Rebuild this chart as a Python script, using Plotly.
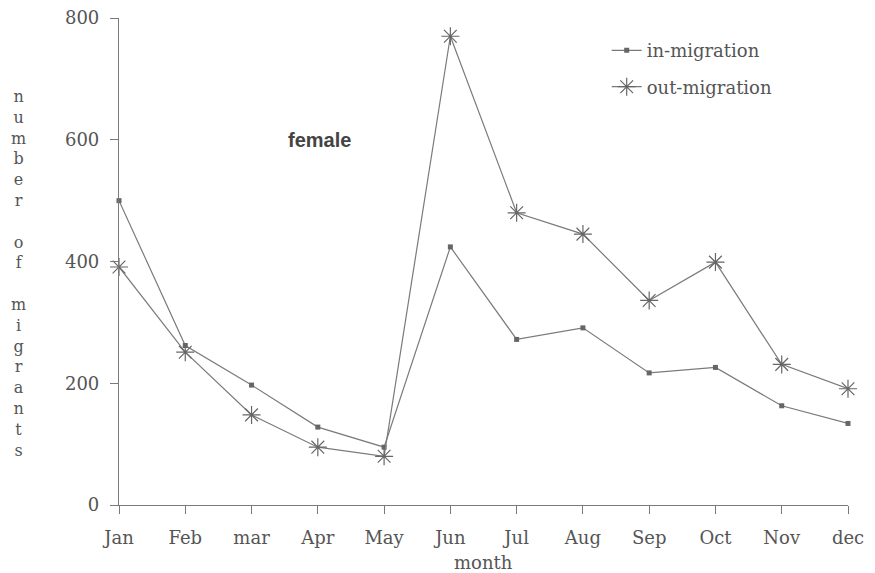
import plotly.graph_objects as go

months = ["Jan", "Feb", "mar", "Apr", "May", "Jun", "Jul", "Aug", "Sep", "Oct", "Nov", "dec"]
in_migration = [500, 262, 197, 128, 95, 424, 272, 291, 217, 226, 163, 134]
out_migration = [391, 251, 148, 95, 80, 770, 480, 445, 336, 399, 231, 191]
y_ticks = [0, 200, 400, 600, 800]
y_title = "number of migrants"
x_title = "month"

serif = "DejaVu Serif, Liberation Serif, serif"
line_col = "#7a7a7a"
text_col = "#555555"

fig = go.Figure()
fig.add_trace(go.Scatter(
    x=months, y=in_migration, mode="lines+markers", name="in-migration",
    line=dict(color=line_col, width=1.2),
    marker=dict(symbol="square", size=5, color="#666666"),
    cliponaxis=False, legendgroup="a",
))
fig.add_trace(go.Scatter(
    x=months, y=out_migration, mode="lines+markers", name="out-migration",
    line=dict(color=line_col, width=1.2),
    marker=dict(symbol="asterisk-open", size=15, color="#666666",
                line=dict(color="#666666", width=1.2)),
    cliponaxis=False, legendgroup="b",
))

# stacked vertical y-axis title
words = y_title.split(" ")
stacked = "<br><br>".join("<br>".join(list(w)) for w in words)
fig.add_annotation(
    text=stacked, xref="paper", yref="paper", x=-0.1385, y=0.476,
    xanchor="center", yanchor="middle", showarrow=False,
    font=dict(family=serif, size=16, color=text_col), align="center",
)
fig.add_annotation(
    text=x_title, xref="paper", yref="paper", x=0.5, y=-0.119,
    xanchor="center", yanchor="middle", showarrow=False,
    font=dict(family=serif, size=18, color=text_col),
)
fig.add_annotation(
    text="<b>female</b>", x=3.03, y=600, xref="x", yref="y",
    showarrow=False, font=dict(family="Liberation Sans, Arial, sans-serif", size=20, color="#444444"),
)

fig.update_layout(
    width=867, height=565,
    margin=dict(l=111, r=27, t=10, b=68),
    paper_bgcolor="white", plot_bgcolor="white",
    showlegend=True,
    legend=dict(x=0.669, y=0.971, xanchor="left", yanchor="top",
                font=dict(family=serif, size=18, color=text_col),
                bgcolor="rgba(0,0,0,0)", traceorder="grouped", tracegroupgap=10),
    font=dict(family=serif, size=16, color=text_col),
)
fig.update_xaxes(
    type="category", range=[0, 11], showline=True, linecolor=line_col, linewidth=1.2,
    ticks="outside", ticklen=8, tickcolor=line_col, showgrid=False, zeroline=False,
    tickfont=dict(family=serif, size=18, color=text_col), automargin=False,
    ticklabelstandoff=8, ticklabeloverflow="allow",
)
fig.update_yaxes(
    range=[0, 800], tickvals=y_ticks, showline=True, linecolor=line_col, linewidth=1.2,
    ticks="outside", ticklen=8, tickcolor=line_col, showgrid=False, zeroline=False,
    tickfont=dict(family=serif, size=18, color=text_col), automargin=False,
    ticklabelstandoff=7, ticklabeloverflow="allow",
)
fig.write_html("out.html")
